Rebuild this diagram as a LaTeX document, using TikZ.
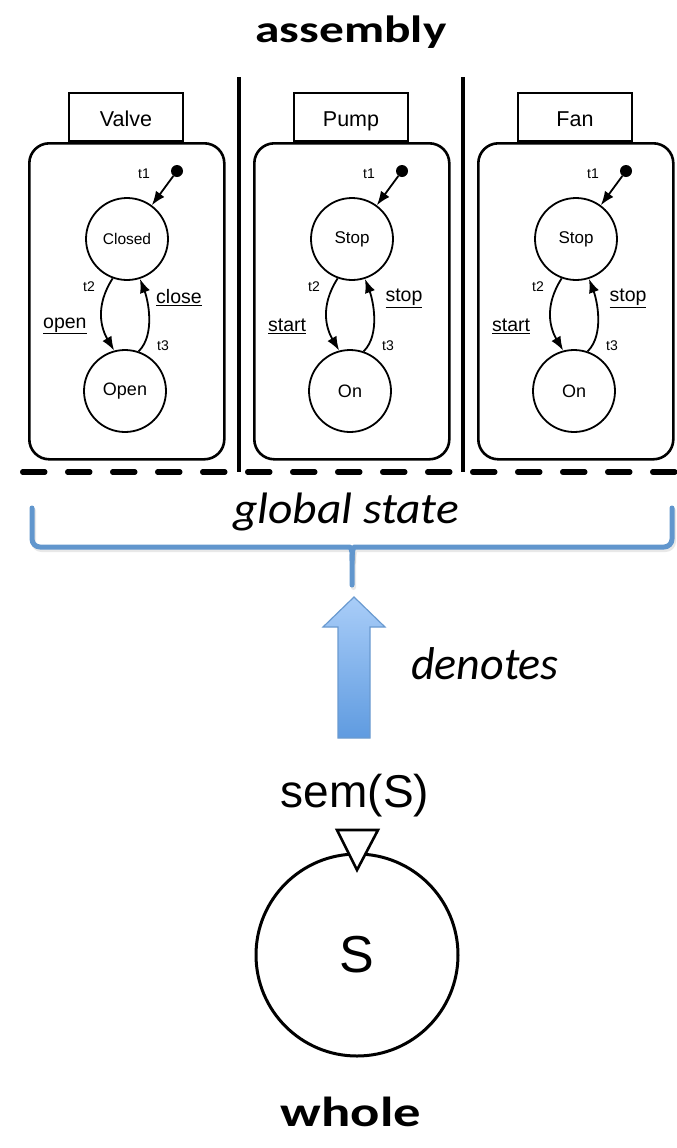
\documentclass[tikz,border=0pt]{standalone}
\usepackage{fontspec}
\setmainfont{Liberation Sans}
\newfontfamily\calbold[FakeStretch=1.3]{Carlito Bold}
\newfontfamily\calgs[FakeStretch=1.08]{Carlito Italic}
\newfontfamily\calit{Carlito Italic}
\usetikzlibrary{arrows.meta}
\definecolor{braceblue}{HTML}{6196CD}
\definecolor{arrtop}{HTML}{A9CDF8}
\definecolor{arrbot}{HTML}{5F9BE0}
\definecolor{arredge}{HTML}{6A9AD0}
\newcommand\fsz[1]{\fontsize{#1bp}{#1bp}\selectfont}
\tikzset{
  body/.style={draw, line width=2.6bp, rounded corners=20bp, minimum width=195bp, minimum height=316bp, inner sep=0, anchor=north west},
  hdr/.style={draw, line width=2bp, fill=white, minimum width=114bp, minimum height=48bp, inner sep=0, anchor=south west, font=\fsz{21.5}, text height=19bp, text depth=1bp},
  st/.style={circle, draw, line width=1.8bp, minimum size=82bp, inner sep=0},
  initdot/.style={circle, fill, inner sep=0, minimum size=12bp},
  tr/.style={line width=1.8bp, -{Latex[length=14bp,width=10.5bp]}},
  tl/.style={font=\fsz{14}, inner sep=0},
  ul/.style={font=\fsz{19.5}, inner sep=0},
  divider/.style={line width=4bp},
  bracel/.style={draw=braceblue, line width=5bp, line cap=round, line join=round},
  braceshadow/.style={draw=black!30, opacity=0.3, line width=5bp, line cap=round, line join=round},
}
\newcommand\machine[8]{%
  \begin{scope}[xshift=#1bp]
    \node[hdr] (#2hdr) at (40,142) {#3};
    \node[body] (#2box) at (0,142) {};
    \node[st, font=\fsz{#8}] (#2top) at (99,239) {#4};
    \node[st, font=\fsz{18}] (#2bot) at (97,391) {#5};
    \node[initdot] (#2init) at (149,171) {};
    \draw[tr] (#2init) -- (#2top);
    \draw[tr] (#2top.250) .. controls +(-18,28) and +(-13,-22) .. (#2bot.105);
    \draw[tr] (#2bot.71) .. controls +(17,-17) and +(8,21) .. (#2top.-72);
    \node[tl] (#2t1) at (116,174) {t1};
    \node[tl] (#2t2) at (61,287) {t2};
    \node[tl] (#2t3) at (135,346) {t3};
    \node[ul, anchor=west] (#2lab) at (15,326) {\underline{#6}};
    \node[ul] (#2rab) at (151,298) {\underline{#7}};
  \end{scope}}
\begin{document}
\begin{tikzpicture}[x=1bp, y=-1bp]
\useasboundingbox (0,0) rectangle (677,1148);
\node[font=\calbold\fsz{38}] (assembly) at (351,32.5) {assembly};
\machine{28}{v}{Valve}{Closed}{Open}{open}{close}{15.5}
\machine{253}{p}{Pump}{Stop}{On}{start}{stop}{17}
\machine{477}{f}{Fan}{Stop}{On}{start}{stop}{17}
\draw[divider] (239,77) -- (239,472);
\draw[divider] (463,77) -- (463,472);
\draw[line width=5.5bp, dash pattern=on 22bp off 23bp, line cap=round] (22.75,472) -- (677,472);
\node[font=\calgs\fsz{44}] (global) at (346,512) {global state};
% brace
\begin{scope}[shift={(1.5,2.5)}]
\draw[braceshadow, rounded corners=8bp] (32,508) -- (32,547) -- (342,547) .. controls (350,547) and (352,550) .. (352,560) -- (352,585);
\draw[braceshadow, rounded corners=8bp] (672,508) -- (672,547) -- (362,547) .. controls (354,547) and (352,550) .. (352,560);
\end{scope}
\draw[bracel, rounded corners=8bp] (32,508) -- (32,547) -- (342,547) .. controls (350,547) and (352,550) .. (352,560) -- (352,585);
\draw[bracel, rounded corners=8bp] (672,508) -- (672,547) -- (362,547) .. controls (354,547) and (352,550) .. (352,560);
% big arrow
\draw[arredge, line width=1.2bp, top color=arrtop, bottom color=arrbot]
  (338,738) -- (338,627) -- (323,627) -- (354,597) -- (385,627) -- (370,627) -- (370,738) -- cycle;
\node[font=\calit\fsz{46}] (denotes) at (485,663.5) {denotes};
\node[font=\fsz{46}] (sem) at (355,796) {sem(S)};
\node[circle, draw, line width=3bp, minimum size=202bp, inner sep=0, font=\fsz{52}] (S) at (357,955) {S};
\draw[line width=2.6bp, fill=white, line join=miter] (337,830) -- (378,830) -- (357,870) -- cycle;
\node[font=\calbold\fsz{42}] (whole) at (351,1112) {whole};
\end{tikzpicture}
\end{document}
